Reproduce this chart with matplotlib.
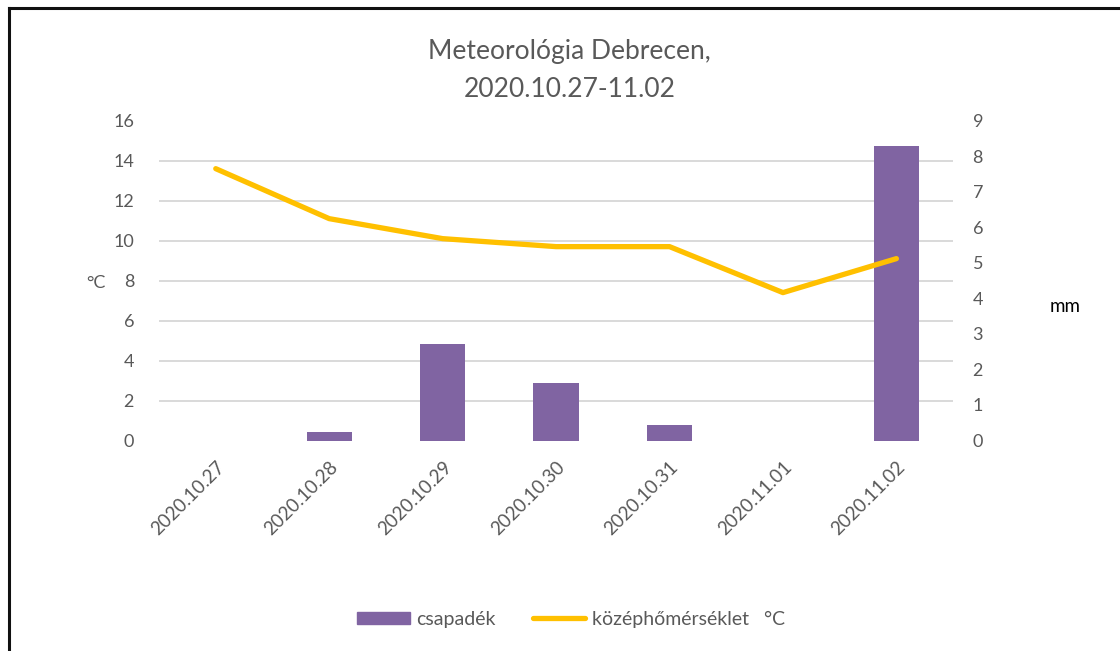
import matplotlib
matplotlib.use("Agg")
import matplotlib.pyplot as plt
import numpy as np
from matplotlib.lines import Line2D

plt.rcParams['font.family'] = ['Lato', 'DejaVu Sans']

# data
dates = ["2020.10.27", "2020.10.28", "2020.10.29", "2020.10.30",
         "2020.10.31", "2020.11.01", "2020.11.02"]
precip_mm = [0, 0.23, 2.72, 1.61, 0.45, 0, 8.3]          # csapadék, right axis
temp_c = [13.6, 11.1, 10.1, 9.7, 9.7, 7.4, 9.1]           # középhőmérséklet, left axis

TEXT = "#595959"
GRID = "#D9D9D9"
PURPLE = "#8064A2"
GOLD = "#FFC000"

fig = plt.figure(figsize=(11.2, 6.51), dpi=100)
ax = fig.add_axes([0.142, 0.3233, 0.709, 0.4913])
ax2 = ax.twinx()

x = np.arange(len(dates))

# bars on the mm axis, line on the °C axis (line drawn on top)
ax2.bar(x, precip_mm, width=0.4, color=PURPLE, linewidth=0, zorder=2)
ax.plot(x, temp_c, color=GOLD, linewidth=3.8, solid_capstyle='round',
        solid_joinstyle='round', zorder=3)
ax.set_zorder(ax2.get_zorder() + 1)
ax.patch.set_visible(False)

ax.set_xlim(-0.5, len(dates) - 0.5)
ax.set_ylim(0, 16)
ax.set_yticks(range(0, 17, 2))
ax2.set_ylim(0, 9)
ax2.set_yticks(range(0, 10))

# gridlines follow the left axis ticks but sit behind the bars
ax2.set_yticks(np.linspace(0, 9, len(ax.get_yticks())), minor=True)
ax2.grid(axis='y', which='minor', color=GRID, linewidth=1.4, zorder=0)
ax2.set_axisbelow(True)
ax2.tick_params(axis='y', which='minor', length=0)

for a in (ax, ax2):
    for s in a.spines.values():
        s.set_visible(False)
    a.tick_params(axis='both', length=0, labelsize=13, labelcolor=TEXT)

ax.tick_params(axis='y', pad=18)
ax2.tick_params(axis='y', pad=14)
ax.set_xticks(x)
ax.set_xticklabels(dates, rotation=45, ha='right', rotation_mode='anchor',
                   fontsize=13.5)
ax.tick_params(axis='x', pad=13)

ax.set_ylabel("°C", rotation=0, fontsize=13, color=TEXT, va='center', ha='center')
ax.yaxis.set_label_coords(-0.079, 0.494, transform=ax.transAxes)
ax2.set_ylabel("mm", rotation=0, fontsize=13.5, color="black", va='center', ha='center')
ax2.yaxis.set_label_coords(1.141, 0.42, transform=ax.transAxes)

fig.text(0.5085, 0.892, "Meteorológia Debrecen,\n2020.10.27-11.02", ha='center',
         va='center', fontsize=19, color=TEXT, linespacing=1.65)

handles = [plt.Rectangle((0, 0), 1, 1, color=PURPLE),
           Line2D([0], [0], color=GOLD, linewidth=3.8, solid_capstyle='round')]
leg = fig.legend(handles, ["csapadék", "középhőmérséklet   °C"], loc='center',
                 bbox_to_anchor=(0.51, 0.049), ncol=2, frameon=False,
                 fontsize=14, handlelength=2.7, handleheight=0.55,
                 columnspacing=1.9, handletextpad=0.35)
for t in leg.get_texts():
    t.set_color(TEXT)

# border on the top and left edges
fig.add_artist(Line2D([0.008, 1.0], [0.987, 0.987], color="#111111", linewidth=2.2,
                      transform=fig.transFigure))
fig.add_artist(Line2D([0.008, 0.008], [0.0, 0.987], color="#111111", linewidth=2.2,
                      transform=fig.transFigure))

fig.savefig("out.png", dpi=100)
